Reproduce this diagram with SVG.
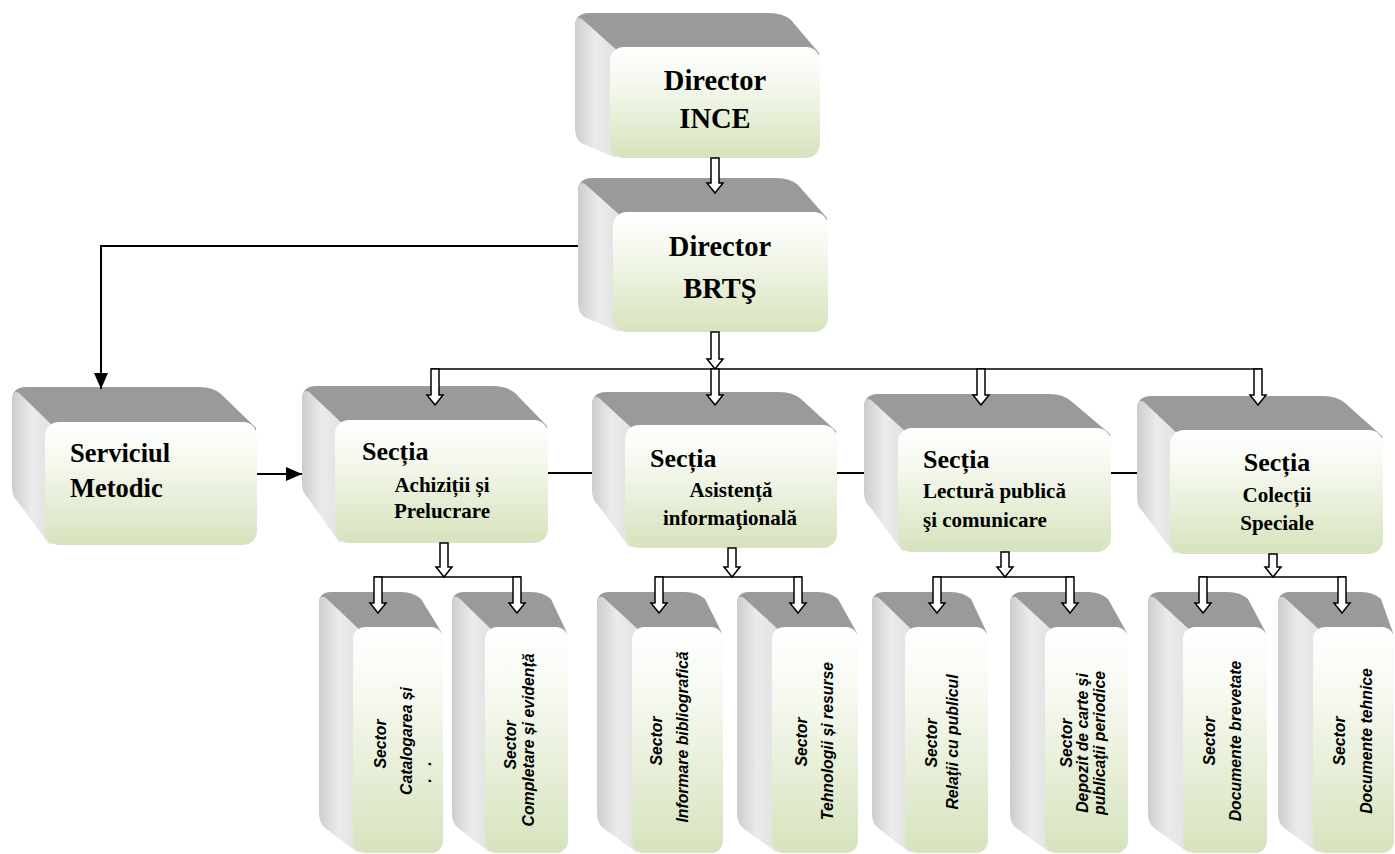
<svg xmlns="http://www.w3.org/2000/svg" width="1395" height="854" viewBox="0 0 1395 854">
<defs>
<linearGradient id="gFront" x1="0" y1="0" x2="0" y2="1">
<stop offset="0" stop-color="#ffffff"/>
<stop offset="0.3" stop-color="#f6f9f0"/>
<stop offset="1" stop-color="#d6e3bd"/>
</linearGradient>
<linearGradient id="gLeft" x1="0" y1="0" x2="1" y2="0">
<stop offset="0" stop-color="#cdcdcd"/>
<stop offset="0.45" stop-color="#ebebeb"/>
<stop offset="1" stop-color="#e0e0e0"/>
</linearGradient>
<marker id="ah" markerUnits="userSpaceOnUse" markerWidth="16" markerHeight="14" refX="16" refY="7" orient="auto">
<path d="M0,0 L16,7 L0,14 Z" fill="#000"/>
</marker>
</defs>
<style>
.top{fill:#9a9a9a}
.left{fill:url(#gLeft)}
.front{fill:url(#gFront)}
.t1{font-family:"Liberation Serif","Times New Roman",serif;font-weight:bold;font-size:28.5px;fill:#000}
.t2{font-family:"Liberation Serif","Times New Roman",serif;font-weight:bold;font-size:26px;fill:#000}
.t3{font-family:"Liberation Serif","Times New Roman",serif;font-weight:bold;font-size:21px;fill:#000}
.ts{font-family:"Liberation Sans",Arial,sans-serif;font-weight:bold;font-style:italic;font-size:15.8px;fill:#000}
.blk{fill:#fff;stroke:#000;stroke-width:1.5}
.ln{fill:none;stroke:#000;stroke-width:2}
.bus{fill:none;stroke:#000;stroke-width:1.5}
</style>

<g id="node-director-ince">
<path class="top" d="M575,27 Q575,13 589,13 L769,13 Q783,13 791,20 L819,53 L819,67 L610,67 Z"/>
<path class="left" d="M582,19 L620,53 L620,156 L614,157 L581,143 Q575,138 575,128 L575,27 Q575,15 582,19 Z"/>
<rect class="front" x="610" y="47" width="210" height="111" rx="14"/>
<text class="t1" x="715" y="90" text-anchor="middle">Director</text>
<text class="t1" x="715" y="128" text-anchor="middle">INCE</text>
</g>

<g id="node-director-brts">
<path class="top" d="M578,192 Q578,178 592,178 L776,178 Q790,178 798,185 L827,218 L827,232 L613,232 Z"/>
<path class="left" d="M585,184 L623,218 L623,330 L617,331 L584,317 Q578,312 578,302 L578,192 Q578,180 585,184 Z"/>
<rect class="front" x="613" y="212" width="215" height="120" rx="14"/>
<text class="t1" x="720" y="256" text-anchor="middle">Director</text>
<text class="t1" x="720" y="298" text-anchor="middle">BRTŞ</text>
</g>

<g id="node-serviciul-metodic">
<path class="top" d="M12,401 Q12,387 26,387 L199,387 Q213,387 221,394 L256,428 L256,442 L45,442 Z"/>
<path class="left" d="M19,393 L55,428 L55,543 L49,544 L18,502 Q12,497 12,487 L12,401 Q12,389 19,393 Z"/>
<rect class="front" x="45" y="422" width="212" height="123" rx="14"/>
<text class="t2" x="70" y="462" style="font-size:26.5px">Serviciul</text>
<text class="t2" x="70" y="497" style="font-size:26.5px">Metodic</text>
</g>

<g id="node-sectia-achizitii">
<path class="top" d="M302,400 Q302,386 316,386 L493,386 Q507,386 515,393 L547,426 L547,440 L335,440 Z"/>
<path class="left" d="M309,392 L345,426 L345,541 L339,542 L308,498 Q302,493 302,483 L302,400 Q302,388 309,392 Z"/>
<rect class="front" x="335" y="420" width="213" height="123" rx="14"/>
<text class="t2" x="362" y="460">Secția</text>
<text class="t3" x="442" y="492" text-anchor="middle">Achiziții și</text>
<text class="t3" x="442" y="518" text-anchor="middle">Prelucrare</text>
</g>

<g id="node-sectia-asistenta">
<path class="top" d="M592,406 Q592,392 606,392 L779,392 Q793,392 801,399 L836,431 L836,445 L625,445 Z"/>
<path class="left" d="M599,398 L635,431 L635,546 L629,547 L598,505 Q592,500 592,490 L592,406 Q592,394 599,398 Z"/>
<rect class="front" x="625" y="425" width="212" height="123" rx="14"/>
<text class="t2" x="650" y="467">Secția</text>
<text class="t3" x="731" y="497" text-anchor="middle">Asistență</text>
<text class="t3" x="730" y="525" text-anchor="middle">informaţională</text>
</g>

<g id="node-sectia-lectura">
<path class="top" d="M864,408 Q864,394 878,394 L1049,394 Q1063,394 1071,401 L1110,434 L1110,448 L898,448 Z"/>
<path class="left" d="M871,400 L908,434 L908,550 L902,551 L870,507 Q864,502 864,492 L864,408 Q864,396 871,400 Z"/>
<rect class="front" x="898" y="428" width="213" height="124" rx="14"/>
<text class="t2" x="923" y="468">Secția</text>
<text class="t3" x="923" y="498">Lectură publică</text>
<text class="t3" x="923" y="527">şi comunicare</text>
</g>

<g id="node-sectia-colectii">
<path class="top" d="M1137,410 Q1137,396 1151,396 L1323,396 Q1337,396 1345,403 L1382,436 L1382,450 L1170,450 Z"/>
<path class="left" d="M1144,402 L1180,436 L1180,552 L1174,553 L1143,512 Q1137,507 1137,497 L1137,410 Q1137,398 1144,402 Z"/>
<rect class="front" x="1170" y="430" width="213" height="124" rx="14"/>
<text class="t2" x="1277" y="471" text-anchor="middle">Secția</text>
<text class="t3" x="1277" y="502" text-anchor="middle">Colecții</text>
<text class="t3" x="1277" y="530" text-anchor="middle">Speciale</text>
</g>

<g id="node-sector-catalogarea">
<path class="top" d="M319,604 Q319,592 331,592 L401,592 Q413,592 421,599 L442,633 L442,647 L353,647 Z"/>
<path class="left" d="M326,598 L363,633 L363,851 L357,852 L325,828 Q319,823 319,813 L319,604 Q319,594 326,598 Z"/>
<rect class="front" x="353" y="627" width="90" height="226" rx="12"/>
<text class="ts" transform="translate(386,744) rotate(-90)" text-anchor="middle">Sector</text>
<text class="ts" transform="translate(412,741) rotate(-90)" text-anchor="middle">Catalogarea și</text>
<text class="ts" transform="translate(431,770) rotate(-90)" text-anchor="middle" letter-spacing="4">. .</text>
</g>

<g id="node-sector-completare">
<path class="top" d="M452,604 Q452,592 464,592 L531,592 Q543,592 551,599 L567,633 L567,647 L485,647 Z"/>
<path class="left" d="M459,598 L495,633 L495,851 L489,852 L458,828 Q452,823 452,813 L452,604 Q452,594 459,598 Z"/>
<rect class="front" x="485" y="627" width="83" height="226" rx="12"/>
<text class="ts" transform="translate(516,745) rotate(-90)" text-anchor="middle">Sector</text>
<text class="ts" transform="translate(534,740) rotate(-90)" text-anchor="middle">Completare și evidență</text>
</g>

<g id="node-sector-informare">
<path class="top" d="M597,604 Q597,592 609,592 L685,592 Q697,592 705,599 L722,633 L722,647 L632,647 Z"/>
<path class="left" d="M604,598 L642,633 L642,851 L636,852 L603,828 Q597,823 597,813 L597,604 Q597,594 604,598 Z"/>
<rect class="front" x="632" y="627" width="91" height="226" rx="12"/>
<text class="ts" transform="translate(662,741) rotate(-90)" text-anchor="middle">Sector</text>
<text class="ts" transform="translate(688,737) rotate(-90)" text-anchor="middle">Informare bibliografică</text>
</g>

<g id="node-sector-tehnologii">
<path class="top" d="M737,604 Q737,592 749,592 L818,592 Q830,592 838,599 L857,633 L857,647 L772,647 Z"/>
<path class="left" d="M744,598 L782,633 L782,851 L776,852 L743,828 Q737,823 737,813 L737,604 Q737,594 744,598 Z"/>
<rect class="front" x="772" y="627" width="86" height="226" rx="12"/>
<text class="ts" transform="translate(807,742) rotate(-90)" text-anchor="middle">Sector</text>
<text class="ts" transform="translate(833,741) rotate(-90)" text-anchor="middle">Tehnologii și resurse</text>
</g>

<g id="node-sector-relatii">
<path class="top" d="M872,604 Q872,592 884,592 L951,592 Q963,592 971,599 L987,633 L987,647 L905,647 Z"/>
<path class="left" d="M879,598 L915,633 L915,851 L909,852 L878,828 Q872,823 872,813 L872,604 Q872,594 879,598 Z"/>
<rect class="front" x="905" y="627" width="83" height="226" rx="12"/>
<text class="ts" transform="translate(937,743) rotate(-90)" text-anchor="middle">Sector</text>
<text class="ts" transform="translate(958,742) rotate(-90)" text-anchor="middle">Relaţii cu publicul</text>
</g>

<g id="node-sector-depozit">
<path class="top" d="M1010,604 Q1010,592 1022,592 L1088,592 Q1100,592 1108,599 L1127,633 L1127,647 L1045,647 Z"/>
<path class="left" d="M1017,598 L1055,633 L1055,851 L1049,852 L1016,828 Q1010,823 1010,813 L1010,604 Q1010,594 1017,598 Z"/>
<rect class="front" x="1045" y="627" width="83" height="226" rx="12"/>
<text class="ts" transform="translate(1072,743) rotate(-90)" text-anchor="middle">Sector</text>
<text class="ts" transform="translate(1088,743) rotate(-90)" text-anchor="middle">Depozit de carte şi</text>
<text class="ts" transform="translate(1105,743) rotate(-90)" text-anchor="middle">publicaţii periodice</text>
</g>

<g id="node-sector-brevetate">
<path class="top" d="M1148,604 Q1148,592 1160,592 L1228,592 Q1240,592 1248,599 L1266,633 L1266,647 L1183,647 Z"/>
<path class="left" d="M1155,598 L1193,633 L1193,851 L1187,852 L1154,828 Q1148,823 1148,813 L1148,604 Q1148,594 1155,598 Z"/>
<rect class="front" x="1183" y="627" width="84" height="226" rx="12"/>
<text class="ts" transform="translate(1215,741) rotate(-90)" text-anchor="middle">Sector</text>
<text class="ts" transform="translate(1241,741) rotate(-90)" text-anchor="middle">Documente brevetate</text>
</g>

<g id="node-sector-tehnice">
<path class="top" d="M1278,604 Q1278,592 1290,592 L1361,592 Q1373,592 1381,599 L1393,633 L1393,647 L1313,647 Z"/>
<path class="left" d="M1285,598 L1323,633 L1323,851 L1317,852 L1284,828 Q1278,823 1278,813 L1278,604 Q1278,594 1285,598 Z"/>
<rect class="front" x="1313" y="627" width="81" height="226" rx="12"/>
<text class="ts" transform="translate(1345,741) rotate(-90)" text-anchor="middle">Sector</text>
<text class="ts" transform="translate(1372,741) rotate(-90)" text-anchor="middle">Documente tehnice</text>
</g>

<g id="connectors">
<path class="ln" d="M578,246 H101 V389" marker-end="url(#ah)"/>
<path class="ln" d="M257,474 H302" marker-end="url(#ah)"/>
<path class="ln" d="M548,473 H592"/>
<path class="ln" d="M837,473 H864"/>
<path class="ln" d="M1111,473 H1137"/>
<path class="bus" d="M431,369 H1262"/>
<path class="bus" d="M374,577 H521"/>
<path class="bus" d="M655,577 H802"/>
<path class="bus" d="M933,577 H1074"/>
<path class="bus" d="M1199,577 H1346"/>
<polygon class="blk" points="711,158 719,158 719,183 723,183 715,193 707,183 711,183"/>
<polygon class="blk" points="711,332 719,332 719,359 723,359 715,369 707,359 711,359"/>
<polygon class="blk" points="431,369 439,369 439,395 443,395 435,405 427,395 431,395"/>
<polygon class="blk" points="711,369 719,369 719,395 723,395 715,405 707,395 711,395"/>
<polygon class="blk" points="977,369 985,369 985,395 989,395 981,405 973,395 977,395"/>
<polygon class="blk" points="1254,369 1262,369 1262,395 1266,395 1258,405 1250,395 1254,395"/>
<polygon class="blk" points="440,543 448,543 448,567 452,567 444,577 436,567 440,567"/>
<polygon class="blk" points="728,548 736,548 736,567 740,567 732,577 724,567 728,567"/>
<polygon class="blk" points="1001,552 1009,552 1009,567 1013,567 1005,577 997,567 1001,567"/>
<polygon class="blk" points="1269,554 1277,554 1277,567 1281,567 1273,577 1265,567 1269,567"/>
<polygon class="blk" points="374,577 382,577 382,603 386,603 378,613 370,603 374,603"/>
<polygon class="blk" points="513,577 521,577 521,603 525,603 517,613 509,603 513,603"/>
<polygon class="blk" points="655,577 663,577 663,603 667,603 659,613 651,603 655,603"/>
<polygon class="blk" points="794,577 802,577 802,603 806,603 798,613 790,603 794,603"/>
<polygon class="blk" points="933,577 941,577 941,603 945,603 937,613 929,603 933,603"/>
<polygon class="blk" points="1066,577 1074,577 1074,603 1078,603 1070,613 1062,603 1066,603"/>
<polygon class="blk" points="1199,577 1207,577 1207,603 1211,603 1203,613 1195,603 1199,603"/>
<polygon class="blk" points="1338,577 1346,577 1346,603 1350,603 1342,613 1334,603 1338,603"/>
</g>
</svg>
